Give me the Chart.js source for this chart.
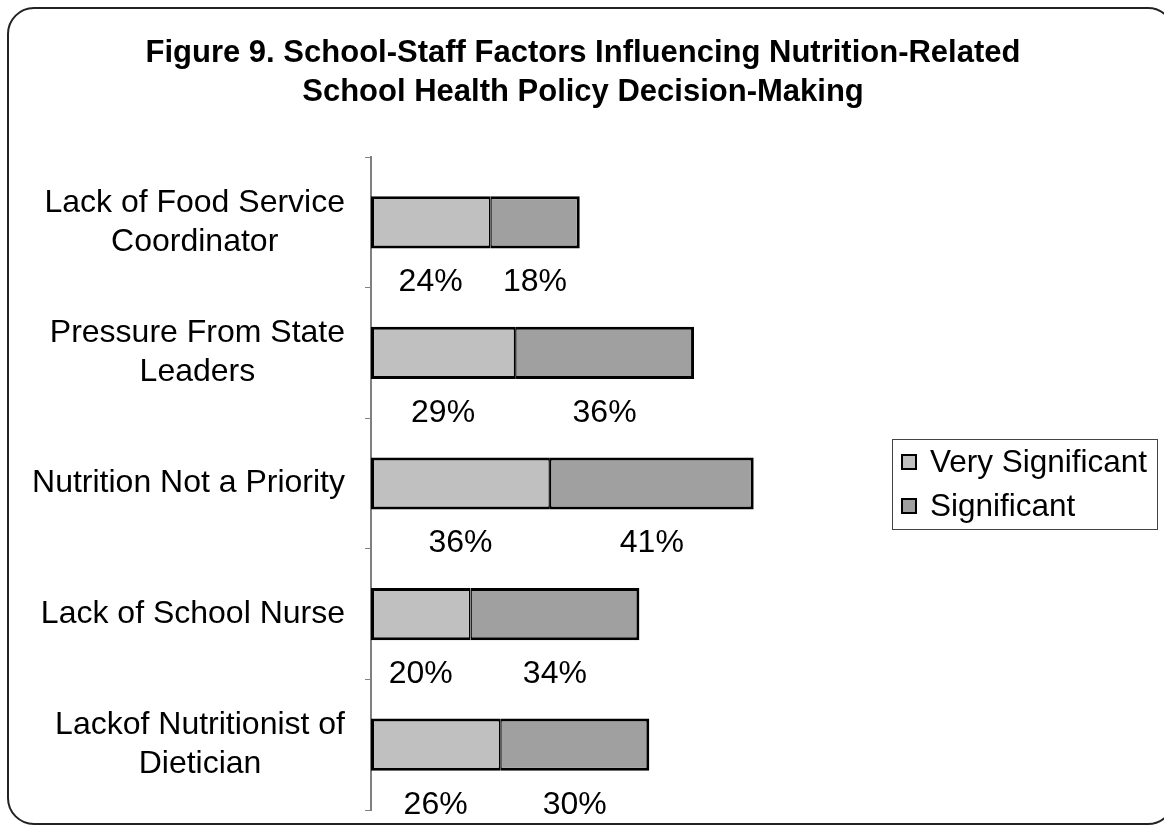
<!DOCTYPE html>
<html>
<head>
<meta charset="utf-8">
<script src="https://cdn.jsdelivr.net/npm/chart.js@4.4.1/dist/chart.umd.min.js"></script>
<style>
  html, body { margin: 0; padding: 0; background: #fff; }
  #wrap { width: 1164px; height: 825px; position: relative; }
</style>
</head>
<body>
<div id="wrap"><canvas id="chart"></canvas></div>
<script>
// Factor names, one array of lines per category
const categoryLines = [
  ["Lack of Food Service", "Coordinator"],
  ["Pressure From State", "Leaders"],
  ["Nutrition Not a Priority"],
  ["Lack of School Nurse"],
  ["Lackof Nutritionist of", "Dietician"]
];
const seriesNames = ["Very Significant", "Significant"];
const verySignificant = [24, 29, 36, 20, 26];
const significant = [18, 36, 41, 34, 30];
const titleLines = [
  "Figure 9. School-Staff Factors Influencing Nutrition-Related",
  "School Health Policy Decision-Making"
];

const FONT = "'Liberation Sans', Arial, sans-serif";
const LIGHT = "#c0c0c0";
const DARK = "#a0a0a0";

// Rounded frame and the two-line heading, centred on the page
const framePlugin = {
  id: "frame",
  beforeDraw(chart) {
    const ctx = chart.ctx;
    ctx.save();
    ctx.fillStyle = "#fff";
    ctx.fillRect(0, 0, chart.width, chart.height);
    ctx.beginPath();
    ctx.roundRect(8, 8, 1166, 816, 26);
    ctx.lineWidth = 2;
    ctx.strokeStyle = "#222";
    ctx.stroke();
    ctx.font = "bold 31px " + FONT;
    ctx.fillStyle = "#000";
    ctx.textAlign = "center";
    ctx.textBaseline = "alphabetic";
    titleLines.forEach((t, i) => ctx.fillText(t, 583, 62 + i * 39));
    ctx.restore();
  }
};

// Category names: right-aligned blocks, lines centred within each block
const categoryLabelPlugin = {
  id: "categoryLabels",
  afterDraw(chart) {
    const ctx = chart.ctx;
    const y = chart.scales.y;
    const lineH = 39;
    ctx.save();
    ctx.font = "32px " + FONT;
    ctx.fillStyle = "#000";
    ctx.textAlign = "center";
    ctx.textBaseline = "middle";
    const right = y.right - 26;
    categoryLines.forEach((lines, i) => {
      const cy = y.getPixelForValue(i);
      const w = Math.max(...lines.map(l => ctx.measureText(l).width));
      const cx = right - w / 2;
      const top = cy - (lines.length - 1) * lineH / 2;
      lines.forEach((l, k) => ctx.fillText(l, cx, top + k * lineH));
    });
    ctx.restore();
  }
};

// Percentage under each bar segment
const valueLabelPlugin = {
  id: "valueLabels",
  afterDatasetsDraw(chart) {
    const ctx = chart.ctx;
    ctx.save();
    ctx.font = "32px " + FONT;
    ctx.fillStyle = "#000";
    ctx.textAlign = "center";
    ctx.textBaseline = "middle";
    chart.data.datasets.forEach((ds, di) => {
      const meta = chart.getDatasetMeta(di);
      meta.data.forEach((bar, i) => {
        const cx = (bar.base + bar.x) / 2;
        const cy = bar.y + bar.height / 2 + 34;
        ctx.fillText(ds.data[i] + "%", cx, cy);
      });
    });
    ctx.restore();
  }
};

// Boxed legend to the right of the plot
const boxLegendPlugin = {
  id: "boxLegend",
  afterDraw(chart) {
    const ctx = chart.ctx;
    const x0 = 892, y0 = 439, w = 265, h = 90;
    ctx.save();
    ctx.strokeStyle = "#444";
    ctx.lineWidth = 1;
    ctx.strokeRect(x0 + 0.5, y0 + 0.5, w, h);
    ctx.font = "31.5px " + FONT;
    ctx.textBaseline = "middle";
    ctx.textAlign = "left";
    chart.data.datasets.forEach((ds, i) => {
      const cy = y0 + 23 + i * 44;
      ctx.fillStyle = ds.backgroundColor;
      ctx.fillRect(902, cy - 7, 14, 14);
      ctx.strokeStyle = "#000";
      ctx.lineWidth = 2;
      ctx.strokeRect(902, cy - 7, 14, 14);
      ctx.fillStyle = "#000";
      ctx.fillText(ds.label, 930, cy + 1);
    });
    ctx.restore();
  }
};

new Chart(document.getElementById("chart"), {
  type: "bar",
  data: {
    labels: categoryLines.map(l => l.join(" ")),
    datasets: [
      {
        label: seriesNames[0],
        data: verySignificant,
        backgroundColor: LIGHT,
        borderColor: "#000",
        borderWidth: { top: 3, bottom: 3, left: 3, right: 1.5 },
        borderSkipped: false
      },
      {
        label: seriesNames[1],
        data: significant,
        backgroundColor: DARK,
        borderColor: "#000",
        borderWidth: { top: 3, bottom: 3, left: 1.5, right: 3 },
        borderSkipped: false
      }
    ]
  },
  options: {
    indexAxis: "y",
    responsive: true,
    maintainAspectRatio: false,
    animation: false,
    categoryPercentage: 1,
    barPercentage: 0.4,
    layout: { padding: { left: 0, right: 296, top: 157, bottom: 15 } },
    scales: {
      x: { stacked: true, min: 0, max: 100, display: false },
      y: {
        stacked: true,
        offset: true,
        afterFit(scale) { scale.width = 371; },
        grid: {
          offset: true,
          drawOnChartArea: false,
          drawTicks: true,
          tickLength: 6,
          color: "#808080",
          lineWidth: 1
        },
        border: { display: true, color: "#808080", width: 2 },
        ticks: { display: false }
      }
    },
    plugins: {
      legend: { display: false },
      tooltip: { enabled: false },
      title: { display: false }
    }
  },
  plugins: [framePlugin, categoryLabelPlugin, valueLabelPlugin, boxLegendPlugin]
});
</script>
</body>
</html>
